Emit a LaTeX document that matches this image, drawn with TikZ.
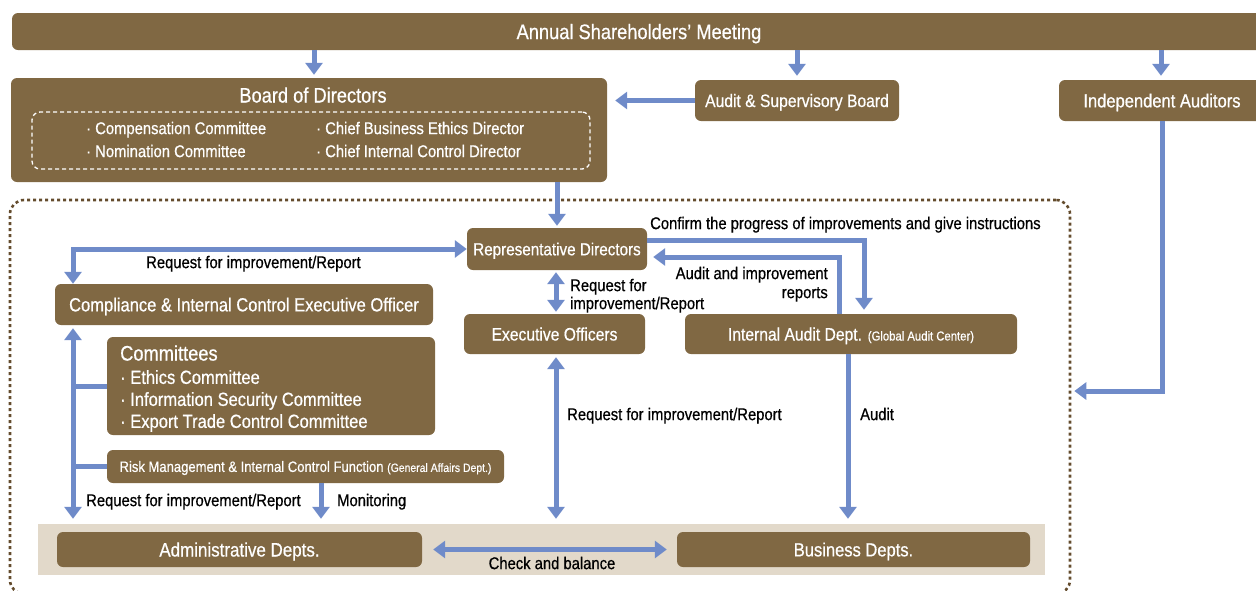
\documentclass[tikz,border=0pt]{standalone}
\usepackage{fontspec}
\setmainfont{Liberation Sans}[FakeStretch=0.87,FakeBold=0.6]
\usetikzlibrary{arrows.meta,calc}
\definecolor{brn}{RGB}{128,104,67}
\definecolor{blu}{RGB}{111,139,201}
\definecolor{bge}{RGB}{226,217,202}
\definecolor{dotc}{RGB}{100,76,45}
\newcommand\fs[1]{\fontsize{#1}{#1}\selectfont}
\begin{document}
\begin{tikzpicture}[x=1pt,y=-1pt,
  fz/.style 2 args={font=\fs{#1}, text height=#2pt, text depth=0pt},
  box/.style={fill=brn, rounded corners=6pt, text=white, inner sep=0pt},
  wt/.style={text=white, inner sep=0pt},
  lbl/.style={text=black, inner sep=0pt, fz={17}{12.2}},
  tip/.tip={Triangle[width=17pt,length=12pt]},
  arr/.style={draw=blu, line width=5pt, -tip},
  arrb/.style={draw=blu, line width=5pt, tip-tip},
  ln/.style={draw=blu, line width=5pt},
]
\useasboundingbox (0,0) rectangle (1256,590);
\clip (0,0) rectangle (1256,590);

% container and band
\node[draw=dotc, line width=2.6pt, dash pattern=on 3pt off 3pt, rounded corners=14pt,
      minimum width=1060pt, minimum height=394pt, inner sep=0pt] (frame) at (540,397) {};
\node[fill=bge, minimum width=1007pt, minimum height=51pt, inner sep=0pt] (band) at (541.5,549.5) {};

% top level
\node[box, minimum width=1254pt, minimum height=37pt, fz={21}{15.1}] (annual) at (639,31.5) {Annual Shareholders’ Meeting};
\node[box, minimum width=596pt, minimum height=104pt] (board) at (309,130) {};
\node[wt, fz={21}{15.1}] (boardt) at (313,95) {Board of Directors};
\node[draw=white, dash pattern=on 4pt off 3pt, line width=1.3pt, rounded corners=8pt,
      minimum width=558pt, minimum height=57pt, inner sep=0pt] (inner) at (311,140.5) {};
\node[wt, fz={17}{12.2}, anchor=west] (b1) at (86,128) {· Compensation Committee};
\node[wt, fz={17}{12.2}, anchor=west] (b2) at (86,151) {· Nomination Committee};
\node[wt, fz={17}{12.2}, anchor=west] (b3) at (316,128) {· Chief Business Ethics Director};
\node[wt, fz={17}{12.2}, anchor=west] (b4) at (316,151) {· Chief Internal Control Director};
\node[box, minimum width=204pt, minimum height=41pt, fz={18}{13}] (asb) at (797,100.5) {Audit \& Supervisory Board};
\node[box, minimum width=206pt, minimum height=41pt, fz={19}{13.7}] (indep) at (1162,100.5) {Independent Auditors};

% inside
\node[box, minimum width=180pt, minimum height=42pt, fz={17.5}{12.6}] (rep) at (557,249) {Representative Directors};
\node[box, minimum width=378pt, minimum height=41pt, fz={19}{13.7}] (compl) at (244,304.5) {Compliance \& Internal Control Executive Officer};
\node[box, minimum width=328pt, minimum height=98pt] (comm) at (271,386) {};
\node[wt, fz={21}{15.1}, anchor=west] (ct) at (120,353) {Committees};
\node[wt, fz={19}{13.7}, anchor=west] (c1) at (120,377) {· Ethics Committee};
\node[wt, fz={19}{13.7}, anchor=west] (c2) at (120,399) {· Information Security Committee};
\node[wt, fz={19}{13.7}, anchor=west] (c3) at (120,421) {· Export Trade Control Committee};
\node[box, minimum width=397pt, minimum height=33pt, fz={15}{10.8}] (risk) at (305.5,466.5) {Risk Management \& Internal Control Function {\fs{12}(General Affairs Dept.)}};
\node[box, minimum width=181pt, minimum height=40pt, fz={18}{13}] (exec) at (554.5,334) {Executive Officers};
\node[box, minimum width=332pt, minimum height=40pt, fz={18}{13}] (iad) at (851,334) {Internal Audit Dept. {\fs{13}(Global Audit Center)}};
\node[box, minimum width=365pt, minimum height=35pt, fz={19.5}{14}] (admin) at (239.5,549.5) {Administrative Depts.};
\node[box, minimum width=353pt, minimum height=35pt, fz={19}{13.7}] (business) at (853.5,549.5) {Business Depts.};

% connectors
\draw[arr, shorten >=3pt] (annual.south -| 314,0) -- (board.north -| 314,0);
\draw[arr, shorten >=4pt] (annual.south -| asb.north) -- (asb.north);
\draw[arr, shorten >=4pt] (annual.south -| 1161,0) -- (indep.north -| 1161,0);
\draw[arr, shorten >=8pt] (asb.west) -- (asb.west -| board.east);
\draw[arr, shorten >=3pt] (indep.south -| 1162,0) |- (frame.east |- 0,391);
\draw[arr, shorten >=2pt] (board.south -| rep.north) -- (rep.north);
\draw[arrb] (compl.north -| 73,0) |- (rep.west);
\draw[arrb, shorten <=2pt, shorten >=2pt] (rep.south -| 556,0) -- (exec.north -| 556,0);
\draw[arr, shorten >=4pt] (rep.east |- 0,240) -| (iad.north -| 864,0);
\draw[arr, shorten >=6pt] (iad.north -| 839,0) |- (rep.east |- 0,257);
\draw[arr, shorten >=5pt] (iad.south -| 848,0) -- (band.north -| 848,0);
\draw[arrb, shorten <=3pt, shorten >=5pt] (exec.south -| 556,0) -- (band.north -| 556,0);
\draw[arrb, shorten <=3pt, shorten >=5pt] (compl.south -| 73,0) -- (band.north -| 73,0);
\draw[ln] (comm.west -| 73,0) -- (comm.west);
\draw[ln] (risk.west -| 73,0) -- (risk.west);
\draw[arr, shorten >=5pt] (risk.south -| 321,0) -- (band.north -| 321,0);
\draw[arrb, shorten <=11pt, shorten >=10pt] (admin.east) -- (business.west);

% labels
\node[lbl, anchor=west] (l1) at (146,262) {Request for improvement/Report};
\node[lbl, anchor=west] (l2) at (650,223) {Confirm the progress of improvements and give instructions};
\node[lbl, anchor=east] (l3a) at (828,273) {Audit and improvement};
\node[lbl, anchor=east] (l3b) at (828,292) {reports};
\node[lbl, anchor=west] (l4a) at (570,285) {Request for};
\node[lbl, anchor=west] (l4b) at (570,303) {improvement/Report};
\node[lbl, anchor=west] (l5) at (567,414) {Request for improvement/Report};
\node[lbl, anchor=west] (l6) at (860,414) {Audit};
\node[lbl, anchor=west] (l7) at (86,500) {Request for improvement/Report};
\node[lbl, anchor=west] (l8) at (337,500) {Monitoring};
\node[lbl] (l9) at (552,563) {Check and balance};
\end{tikzpicture}
\end{document}
